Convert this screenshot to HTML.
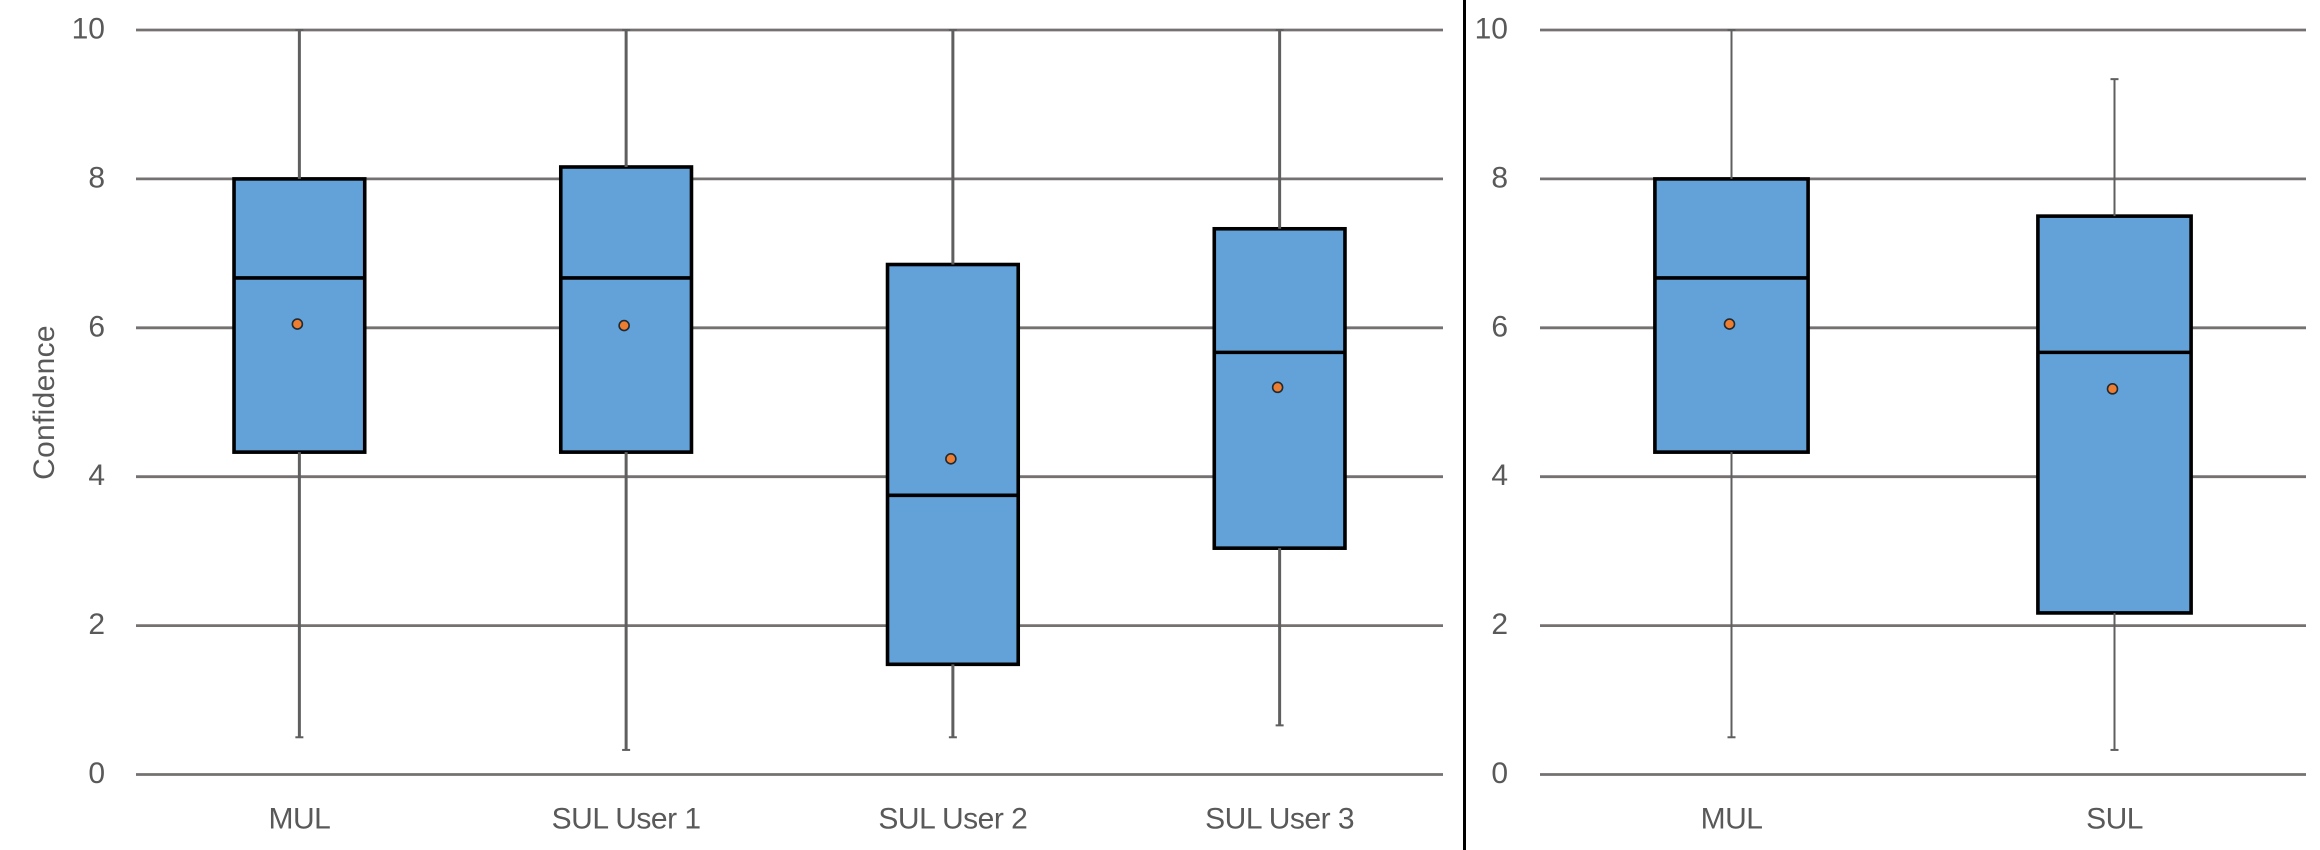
<!DOCTYPE html>
<html lang="en">
<head>
<meta charset="utf-8">
<title>Confidence box plots</title>
<style>
  html, body { margin: 0; padding: 0; background: #ffffff; }
  body { width: 2320px; height: 850px; overflow: hidden; }
  svg { display: block; }
  text { font-family: "Liberation Sans", sans-serif; font-size: 30px; fill: #595959; }
</style>
</head>
<body>
<svg id="chart" xmlns="http://www.w3.org/2000/svg" width="2320" height="850" viewBox="0 0 2320 850">
  <rect x="0" y="0" width="2320" height="850" fill="#ffffff"></rect>
  <g id="left-panel"></g>
  <g id="right-panel"></g>
  <rect x="1463" y="0" width="3" height="850" fill="#000000"></rect>
  <text transform="translate(54 402.5) rotate(-90)" text-anchor="middle" letter-spacing="0.3">Confidence</text>
</svg>
<script>
const yTickLabels = [0, 2, 4, 6, 8, 10];

const leftCategories = ["MUL", "SUL User 1", "SUL User 2", "SUL User 3"];
const leftLow = [0.5, 0.33, 0.5, 0.66];
const leftQ1 = [4.33, 4.33, 1.48, 3.04];
const leftMedian = [6.67, 6.67, 3.75, 5.67];
const leftQ3 = [8.0, 8.16, 6.85, 7.33];
const leftHigh = [10, 10, 10, 10];
const leftMean = [6.05, 6.03, 4.24, 5.2];

const rightCategories = ["MUL", "SUL"];
const rightLow = [0.5, 0.33];
const rightQ1 = [4.33, 2.17];
const rightMedian = [6.67, 5.67];
const rightQ3 = [8.0, 7.5];
const rightHigh = [10, 9.34];
const rightMean = [6.05, 5.18];

const SVG_NS = "http://www.w3.org/2000/svg";
const Y_AT_ZERO = 774.5;
const PX_PER_UNIT = 74.45;

function yScale(v) {
  return Y_AT_ZERO - v * PX_PER_UNIT;
}

function bandScale(x0, x1, count) {
  const band = (x1 - x0) / count;
  return {
    band: band,
    center: function (i) { return x0 + band * (i + 0.5); }
  };
}

function make(tag, parent, props) {
  const el = document.createElementNS(SVG_NS, tag);
  Object.keys(props).forEach(function (k) { el.setAttribute(k, props[k]); });
  parent.appendChild(el);
  return el;
}

function drawPanel(g, cfg) {
  const x = bandScale(cfg.x0, cfg.x1, cfg.categories.length);
  const boxW = x.band * 0.4;

  yTickLabels.forEach(function (t) {
    const line = make("line", g, { x1: cfg.x0, x2: cfg.x1, y1: yScale(t), y2: yScale(t), stroke: "#767171", "stroke-width": 2.8 });
    
    
    const label = make("text", g, { x: cfg.tickX, y: yScale(t) + 8.5, "text-anchor": "end" });
    label.textContent = t;
    
    
  });

  cfg.categories.forEach(function (cat, i) {
    const cx = x.center(i);
    const slug = cat.toLowerCase().replace(/\s+/g, '-');

    const box = make("rect", g, {
      x: cx - boxW / 2, y: yScale(cfg.q3[i]),
      width: boxW, height: yScale(cfg.q1[i]) - yScale(cfg.q3[i]),
      fill: "#63a2d8", stroke: "#000000", "stroke-width": 3.6
    });
    
    

    const median = make("line", g, {
      x1: cx - boxW / 2, x2: cx + boxW / 2,
      y1: yScale(cfg.median[i]), y2: yScale(cfg.median[i]),
      stroke: "#000000", "stroke-width": 3.6
    });
    
    

    const upper = make("line", g, {
      x1: cx, x2: cx, y1: yScale(cfg.high[i]), y2: yScale(cfg.q3[i]),
      stroke: "#5f5f5f", "stroke-width": cfg.whiskerW
    });
    
    

    const upperCap = make("line", g, {
      x1: cx - 4, x2: cx + 4, y1: yScale(cfg.high[i]), y2: yScale(cfg.high[i]),
      stroke: "#5f5f5f", "stroke-width": 2
    });
    
    

    const lower = make("line", g, {
      x1: cx, x2: cx, y1: yScale(cfg.q1[i]), y2: yScale(cfg.low[i]),
      stroke: "#5f5f5f", "stroke-width": cfg.whiskerW
    });
    
    

    const lowerCap = make("line", g, {
      x1: cx - 4, x2: cx + 4, y1: yScale(cfg.low[i]), y2: yScale(cfg.low[i]),
      stroke: "#5f5f5f", "stroke-width": 2
    });
    
    

    const mean = make("circle", g, {
      cx: cx - 2, cy: yScale(cfg.mean[i]), r: 5,
      fill: "#ed7d31", stroke: "#1f2a33", "stroke-width": 1.6
    });
    
    

    const label = make("text", g, { x: cx, y: 828.5, "text-anchor": "middle", "letter-spacing": "-0.5px" });
    label.textContent = cat;
    
    
  });
}

drawPanel(document.getElementById('left-panel'), {
  x0: 136, x1: 1443, tickX: 105, whiskerW: 3,
  categories: leftCategories, low: leftLow, q1: leftQ1, median: leftMedian,
  q3: leftQ3, high: leftHigh, mean: leftMean
});

drawPanel(document.getElementById('right-panel'), {
  x0: 1540, x1: 2306, tickX: 1508, whiskerW: 2,
  categories: rightCategories, low: rightLow, q1: rightQ1, median: rightMedian,
  q3: rightQ3, high: rightHigh, mean: rightMean
});
</script>
</body>
</html>
